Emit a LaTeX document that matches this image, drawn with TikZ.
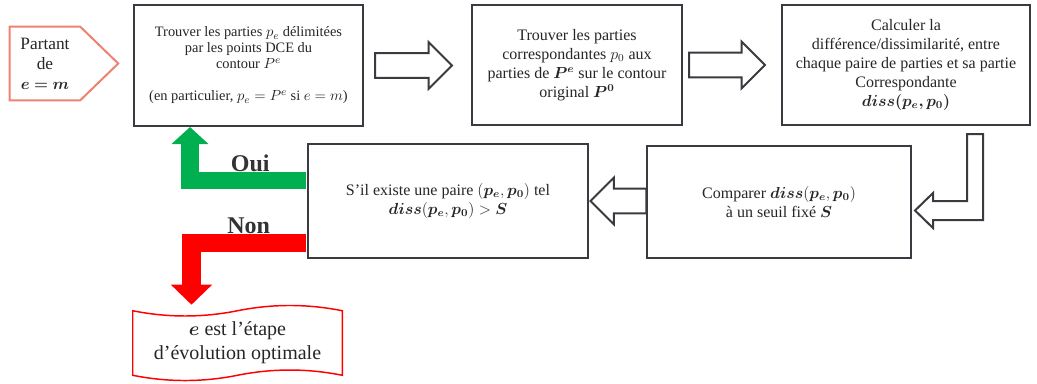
\documentclass[tikz,border=0pt]{standalone}
\usepackage{amsmath, amssymb}
\usepackage{bm}
\usepackage{fontspec}
\setmainfont{Liberation Serif}
\usepackage{tikz}
\usetikzlibrary{shapes.arrows, arrows.meta, positioning, calc}
\definecolor{salmon}{RGB}{237,130,112}
\definecolor{wordgreen}{RGB}{0,176,80}
\definecolor{boxgray}{RGB}{58,58,64}
\tikzset{
  stepbox/.style={rectangle, draw=boxgray, line width=1.5pt, fill=white,
                  align=center, inner sep=2pt, text=black!85},
  smalltext/.style={font=\fontsize{10.8}{12}\selectfont},
  bigtext/.style={font=\fontsize{12}{14.25}\selectfont},
  hollowarrow/.style={single arrow, draw=boxgray, line width=1.5pt, fill=white,
                      inner xsep=0pt, inner ysep=8.6pt, single arrow tip angle=90,
                      single arrow head extend=8.25pt},
  hollowline/.style={draw=boxgray, line width=1.5pt, fill=white, line join=miter},
  startline/.style={draw=salmon, line width=1.5pt},
  tapeline/.style={draw=red, line width=1.1pt},
  yesarrow/.style={draw=wordgreen, line width=13pt, line join=miter,
                   -{Triangle[width=27pt, length=12.75pt]}},
  noarrow/.style={draw=red, line width=14pt, line join=miter,
                  -{Triangle[width=30pt, length=15pt]}},
  branchlabel/.style={font=\fontsize{18}{18}\selectfont\bfseries, text=black!80,
                      inner sep=0pt, outer sep=0pt},
}

\begin{document}
\begin{tikzpicture}[x=0.75pt, y=-0.75pt]
  \useasboundingbox (0,0) rectangle (1037,383);

  % --- Start ---
  \node (start) [minimum width=52.5pt, minimum height=54.75pt, align=center, inner sep=0pt,
                 text=black!85, font=\fontsize{13}{15}\selectfont] at (45,63.5)
        {Partant\\de\\$\bm{e = m}$};
  \draw[startline] (start.north west) -- (start.north east) -- ($(start.east)+(38,0)$)
        -- (start.south east) -- (start.south west) -- cycle;

  % --- Top row ---
  \node (parts) [stepbox, smalltext, minimum width=171.75pt, minimum height=90.75pt] at (248.5,65.5)
        {Trouver les parties $p_e$ délimitées\\par les points DCE du\\contour $P^e$\\[12pt]
         (en particulier, $p_e = P^e$ si $e = m$)};
  \node (match) [stepbox, bigtext, minimum width=157.5pt, minimum height=90pt] at (577,65)
        {Trouver les parties\\correspondantes $p_0$ aux\\parties de $\bm{P^e}$ sur le contour\\original $\bm{P^0}$};
  \node (diss) [stepbox, bigtext, minimum width=186pt, minimum height=90pt] at (906,65)
        {Calculer la\\différence/dissimilarité, entre\\chaque paire de parties et sa partie\\Correspondante\\$\bm{diss(p_e,p_0)}$};

  % --- Bottom row ---
  \node (compare) [stepbox, bigtext, minimum width=198pt, minimum height=84pt] at (779,202)
        {Comparer $\bm{diss}(\bm{p_e},\bm{p_0})$\\à un seuil fixé $\bm{S}$};
  \node (test) [stepbox, bigtext, minimum width=210pt, minimum height=85.5pt] at (448,201)
        {S’il existe une paire $(\bm{p_e},\bm{p_0})$ tel\\$\bm{diss}(\bm{p_e},\bm{p_0}) > \bm{S}$};

  % --- End (punched tape) ---
  \node (done) [minimum width=156.75pt, minimum height=48pt, align=center, inner sep=0pt,
                text=black!85, font=\fontsize{15}{18}\selectfont] at (237.5,343)
        {$\bm{e}$ est l’étape\\d’évolution optimale};
  \draw[tapeline] (done.north west) .. controls +(35,7) and +(-35,7) .. (done.north)
        .. controls +(35,-7) and +(-35,-7) .. (done.north east) -- (done.south east)
        .. controls +(-35,-7) and +(35,-7) .. (done.south)
        .. controls +(-35,7) and +(35,7) .. (done.south west) -- cycle;

  % --- Hollow arrows ---
  \node (arrA) [hollowarrow, minimum height=57.75pt, right=7.5pt of parts] {};
  \node (arrB) [hollowarrow, minimum height=57pt, right=3.75pt of match] {};
  \node (arrC) [hollowarrow, minimum height=42pt, shape border rotate=180, anchor=tip]
        at (test.east) {};
  \draw[hollowline] ($(diss.south)+(61,8)$) -- ++(16,0) -- ++(0,86) -- ++(-50,0) -- ++(0,8)
        -- ++(-18,-17.5) -- ++(18,-17.5) -- ++(0,8) -- ++(34,0) -- cycle;

  % --- Decision arrows ---
  \draw[yesarrow] ($(test.west)+(-1,-20.5)$) -| node[branchlabel, pos=0.24, above=6.5pt] {Oui}
        ($(parts.south)+(-58.5,0)$);
  \draw[noarrow] ($(test.west)+(-1,42)$) -| node[branchlabel, pos=0.25, above=6.75pt] {Non}
        ($(done.north)+(-46,-6)$);
\end{tikzpicture}
\end{document}
